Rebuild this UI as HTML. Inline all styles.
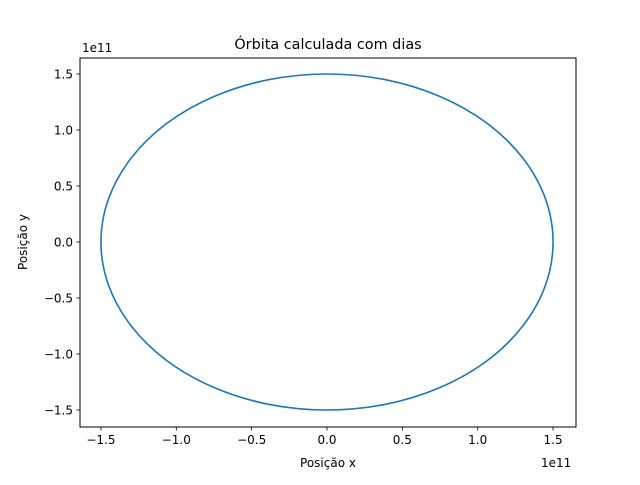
<!DOCTYPE html>
<html><head><meta charset="utf-8"><style>
body{margin:0;background:#fff;}
svg text{font-family:"DejaVu Sans","Liberation Sans",sans-serif;fill:#000;}
</style></head><body>
<svg id="chart" width="640" height="480" xmlns="http://www.w3.org/2000/svg">
<rect x="0" y="0" width="640" height="480" fill="#fff"/>
<text x="328" y="49" font-size="14.4" text-anchor="middle">Órbita calculada com dias</text>
<g id="plot"></g>
<rect x="80" y="58" width="496" height="369" fill="none" stroke="#000" stroke-width="1"/>
<text x="328" y="467" font-size="12" text-anchor="middle">Posição x</text>
<text transform="translate(27,242) rotate(-90)" font-size="12" text-anchor="middle">Posição y</text>
<text x="82" y="52" font-size="12">1e11</text>
<text x="541" y="467" font-size="12">1e11</text>
</svg>
<script>
const xTicks=[-1.5,-1.0,-0.5,0.0,0.5,1.0,1.5];
const yTicks=[-1.5,-1.0,-0.5,0.0,0.5,1.0,1.5];
const xs=[1.5,1.449,1.299,1.061,0.75,0.388,0,-0.388,-0.75,-1.061,-1.299,-1.449,-1.5,-1.449,-1.299,-1.061,-0.75,-0.388,0,0.388,0.75,1.061,1.299,1.449,1.5];
const ys=[0,0.388,0.75,1.061,1.299,1.449,1.5,1.449,1.299,1.061,0.75,0.388,0,-0.388,-0.75,-1.061,-1.299,-1.449,-1.5,-1.449,-1.299,-1.061,-0.75,-0.388,-0.001];
const X=v=>327+v*150.7;
const Y=v=>242-v*112;
const NS="http://www.w3.org/2000/svg";
const plot=document.getElementById('plot');
function mk(tag,attrs){const e=document.createElementNS(NS,tag);for(const k in attrs)e.setAttribute(k,attrs[k]);return e;}
xTicks.forEach(t=>{
  const l=mk('line',{x1:X(t),x2:X(t),y1:427,y2:430.5,stroke:'#000','stroke-width':0.8});
  
  
  plot.appendChild(l);
  const tx=mk('text',{x:X(t),y:444,'font-size':12,'text-anchor':'middle'});
  
  
  tx.textContent=(t<0?'−':'')+Math.abs(t).toFixed(1);
  plot.appendChild(tx);
});
yTicks.forEach(t=>{
  const l=mk('line',{x1:76.5,x2:80,y1:Y(t),y2:Y(t),stroke:'#000','stroke-width':0.8});
  
  
  plot.appendChild(l);
  const tx=mk('text',{x:73,y:Y(t)+4.5,'font-size':12,'text-anchor':'end'});
  
  
  tx.textContent=(t<0?'−':'')+Math.abs(t).toFixed(1);
  plot.appendChild(tx);
});
const P=xs.map((x,i)=>[X(x),Y(ys[i])]);
const n=P.length;
let d='M'+P[0][0]+','+P[0][1];
for(let i=0;i<n-1;i++){
  const p0=i===0?P[n-2]:P[i-1],p1=P[i],p2=P[i+1],p3=i+2>n-1?P[1]:P[i+2];
  const c1=[p1[0]+(p2[0]-p0[0])/6,p1[1]+(p2[1]-p0[1])/6];
  const c2=[p2[0]-(p3[0]-p1[0])/6,p2[1]-(p3[1]-p1[1])/6];
  d+=' C'+c1+' '+c2+' '+p2;
}
const path=mk('path',{d:d,fill:'none',stroke:'#1f77b4','stroke-width':1.6});


plot.appendChild(path);
</script>
</body></html>
